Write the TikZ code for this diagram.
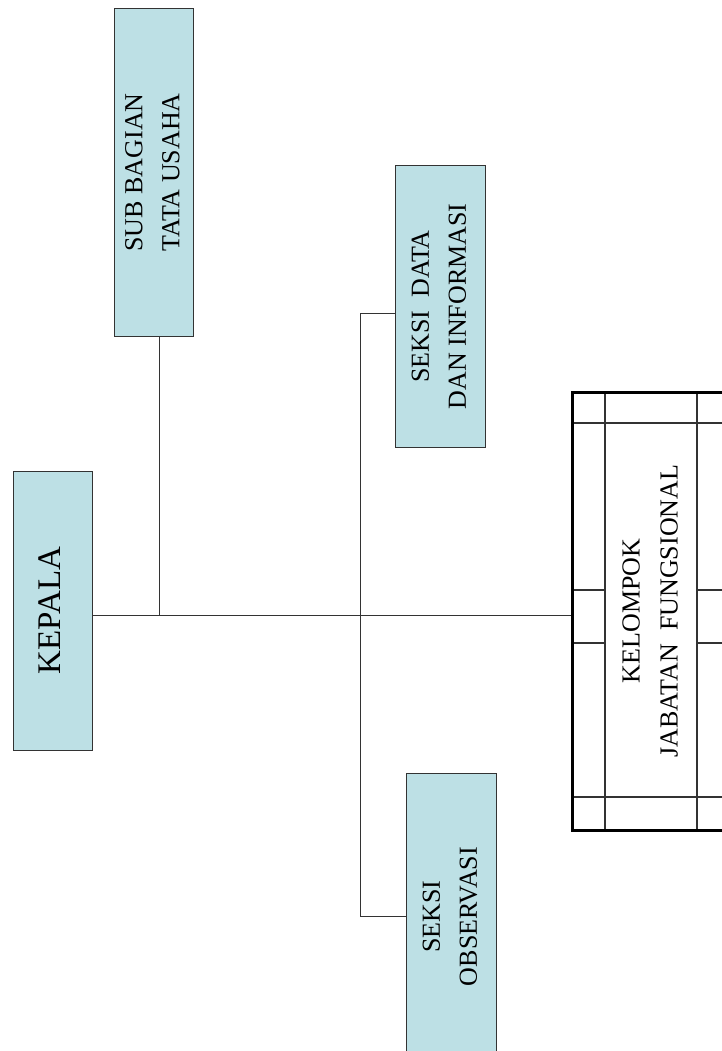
\documentclass[tikz,border=0pt]{standalone}
\usepackage{fontspec}
\setmainfont{Liberation Serif}
\usepackage{graphicx}
\definecolor{boxfill}{RGB}{189,224,229}
\definecolor{lineclr}{RGB}{51,51,51}
\newcommand{\vtext}[1]{\rotatebox{90}{\begin{tabular}{@{}c@{}}#1\end{tabular}}}

\begin{document}
\begin{tikzpicture}[
  x=1pt,y=-1pt,
  unit/.style={draw=lineclr,fill=boxfill,line width=1pt,inner sep=0pt,font=\fontsize{26}{37}\selectfont},
  frame/.style={draw=black,line width=3pt,inner sep=0pt,font=\fontsize{26}{38}\selectfont},
  link/.style={draw=lineclr,line width=1pt},
  grid/.style={draw=black!80,line width=1.2pt},
]
\useasboundingbox (0,0) rectangle (722,1051);
\clip (0,0) rectangle (722,1051);

\node[unit,minimum width=79pt,minimum height=279pt,font=\fontsize{33}{40}\selectfont] (kepala) at (52.5,610.5) {\vtext{KEPALA}};
\node[unit,minimum width=79pt,minimum height=327pt] (tatausaha) at (153.5,172.5) {\vtext{SUB BAGIAN\\TATA USAHA}};
\node[unit,minimum width=90pt,minimum height=281pt] (datainfo) at (440,306.5) {\vtext{SEKSI\ \ DATA\\DAN INFORMASI}};
\node[unit,minimum width=90pt,minimum height=287pt] (observasi) at (451,916.5) {\vtext{SEKSI\\OBSERVASI}};

% table of the functional group
\draw[grid] (605,392) -- (605,830);
\draw[grid] (697,392) -- (697,830);
\draw[grid] (572,423) -- (730,423);
\draw[grid] (572,797) -- (730,797);
\draw[grid] (572,590) -- (605,590) (697,590) -- (730,590);
\draw[grid] (572,643) -- (605,643) (697,643) -- (730,643);
\node[frame,minimum width=158pt,minimum height=438pt] (fungsional) at (651,611) {\vtext{KELOMPOK\\JABATAN\ \ FUNGSIONAL}};

\coordinate (trunk) at ([yshift=-4.5pt]kepala.east);
\draw[link] (trunk) -- (trunk -| fungsional.west);
\draw[link] ([xshift=5.5pt]tatausaha.south) -- ([xshift=5.5pt]tatausaha.south |- trunk);
\draw[link] ([yshift=-6.5pt]datainfo.west) -- ++(-34,0) |- (observasi.west);
\end{tikzpicture}
\end{document}
